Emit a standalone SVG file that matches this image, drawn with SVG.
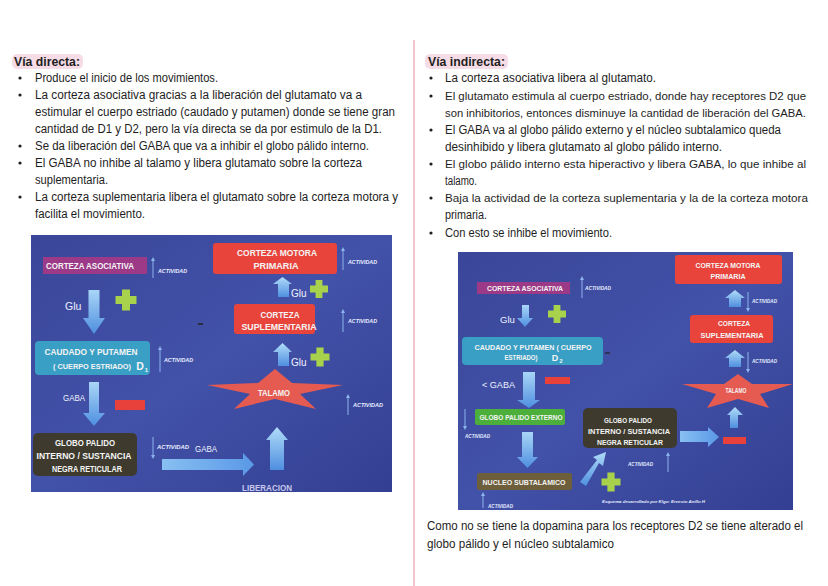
<svg xmlns="http://www.w3.org/2000/svg" width="828" height="586" viewBox="0 0 828 586">
<defs>
<style>
.t{font-family:"Liberation Sans",Arial,sans-serif;font-size:12.3px;fill:#1e1e1e}
.hd{font-weight:bold;font-size:12.5px}
.w{font-family:"Liberation Sans",Arial,sans-serif;font-weight:bold;fill:#f4f4f4;text-anchor:middle}
.lbl{font-family:"Liberation Sans",Arial,sans-serif;fill:#eef2ff}
.act{font-family:"Liberation Sans",Arial,sans-serif;font-style:italic;font-weight:bold;fill:#e6ecff}
.thin{stroke:#8cb4ee;stroke-width:1;fill:none}
.plus{fill:#a8d24c}
.minus{fill:#e8403a}
.red{fill:#e8443c}
.star{fill:#e55b52}
</style>
<linearGradient id="bg" x1="0" y1="0" x2="1" y2="1">
<stop offset="0" stop-color="#3a4699"/>
<stop offset="0.5" stop-color="#4252a8"/>
<stop offset="1" stop-color="#333f92"/>
</linearGradient>
<linearGradient id="adown" x1="0" y1="0" x2="0" y2="1">
<stop offset="0" stop-color="#a9d6f7"/>
<stop offset="1" stop-color="#4f8fe0"/>
</linearGradient>
<linearGradient id="aup" x1="0" y1="1" x2="0" y2="0">
<stop offset="0" stop-color="#4f8fe0"/>
<stop offset="1" stop-color="#b0dcf8"/>
</linearGradient>
<linearGradient id="aright" x1="0" y1="0" x2="1" y2="0">
<stop offset="0" stop-color="#88c0f2"/>
<stop offset="1" stop-color="#5a98e6"/>
</linearGradient>
<marker id="ah" viewBox="0 0 6 6" refX="3" refY="3" markerWidth="4" markerHeight="4" orient="auto-start-reverse">
<path d="M0,0 L6,3 L0,6 Z" fill="#8cb4ee"/>
</marker>
<path id="plusShape" d="M-3.8,-10 H3.8 V-3.8 H10 V3.8 H3.8 V10 H-3.8 V3.8 H-10 V-3.8 H-3.8 Z"/>
</defs>
<rect width="828" height="586" fill="#ffffff"/>
<line x1="414" y1="40" x2="414" y2="586" stroke="#f2c4cf" stroke-width="2"/>

<!-- Left text column -->
<g id="left-text">
<rect x="12" y="54" width="71" height="15" rx="5" fill="#f6dce6"/>
<text class="t hd" x="14" y="66" textLength="66" lengthAdjust="spacingAndGlyphs">Vía directa:</text>
<g fill="#1e1e1e">
<circle cx="20" cy="78" r="1.6"/><circle cx="20" cy="95" r="1.6"/><circle cx="20" cy="146" r="1.6"/><circle cx="20" cy="163" r="1.6"/><circle cx="20" cy="197" r="1.6"/>
</g>
<text class="t" x="35" y="82" textLength="183" lengthAdjust="spacingAndGlyphs">Produce el inicio de los movimientos.</text>
<text class="t" x="35" y="99" textLength="327" lengthAdjust="spacingAndGlyphs">La corteza asociativa gracias a la liberación del glutamato va a</text>
<text class="t" x="35" y="116" textLength="360" lengthAdjust="spacingAndGlyphs">estimular el cuerpo estriado (caudado y putamen) donde se tiene gran</text>
<text class="t" x="35" y="133" textLength="347" lengthAdjust="spacingAndGlyphs">cantidad de D1 y D2, pero la vía directa se da por estimulo de la D1.</text>
<text class="t" x="35" y="150" textLength="334" lengthAdjust="spacingAndGlyphs">Se da liberación del GABA que va a inhibir el globo pálido interno.</text>
<text class="t" x="35" y="167" textLength="327" lengthAdjust="spacingAndGlyphs">El GABA no inhibe al talamo y libera glutamato sobre la corteza</text>
<text class="t" x="35" y="184" textLength="73" lengthAdjust="spacingAndGlyphs">suplementaria.</text>
<text class="t" x="35" y="201" textLength="363" lengthAdjust="spacingAndGlyphs">La corteza suplementaria libera el glutamato sobre la corteza motora y</text>
<text class="t" x="35" y="218" textLength="110" lengthAdjust="spacingAndGlyphs">facilita el movimiento.</text>
</g>

<!-- Right text column -->
<g id="right-text">
<rect x="425" y="54" width="83" height="15" rx="5" fill="#f6dce6"/>
<text class="t hd" x="428" y="66" textLength="77" lengthAdjust="spacingAndGlyphs">Vía indirecta:</text>
<g fill="#1e1e1e">
<circle cx="431" cy="78" r="1.6"/><circle cx="431" cy="96" r="1.6"/><circle cx="431" cy="130" r="1.6"/><circle cx="431" cy="164" r="1.6"/><circle cx="431" cy="198" r="1.6"/><circle cx="431" cy="233" r="1.6"/>
</g>
<text class="t" x="445" y="82" textLength="211" lengthAdjust="spacingAndGlyphs">La corteza asociativa libera al glutamato.</text>
<text class="t" x="445" y="100" style="font-size:11.3px" textLength="361" lengthAdjust="spacingAndGlyphs">El glutamato estimula al cuerpo estriado, donde hay receptores D2 que</text>
<text class="t" x="445" y="117" style="font-size:11.3px" textLength="361" lengthAdjust="spacingAndGlyphs">son inhibitorios, entonces disminuye la cantidad de liberación del GABA.</text>
<text class="t" x="445" y="134" textLength="336" lengthAdjust="spacingAndGlyphs">El GABA va al globo pálido externo y el núcleo subtalamico queda</text>
<text class="t" x="445" y="151" textLength="277" lengthAdjust="spacingAndGlyphs">desinhibido y libera glutamato al globo pálido interno.</text>
<text class="t" x="445" y="168" style="font-size:11.8px" textLength="361" lengthAdjust="spacingAndGlyphs">El globo pálido interno esta hiperactivo y libera GABA, lo que inhibe al</text>
<text class="t" x="445" y="185" textLength="32" lengthAdjust="spacingAndGlyphs">talamo.</text>
<text class="t" x="445" y="202" style="font-size:11.8px" textLength="363" lengthAdjust="spacingAndGlyphs">Baja la actividad de la corteza suplementaria y la de la corteza motora</text>
<text class="t" x="445" y="219" textLength="42" lengthAdjust="spacingAndGlyphs">primaria.</text>
<text class="t" x="445" y="237" textLength="167" lengthAdjust="spacingAndGlyphs">Con esto se inhibe el movimiento.</text>
<text class="t" x="427" y="530" textLength="376" lengthAdjust="spacingAndGlyphs">Como no se tiene la dopamina para los receptores D2 se tiene alterado el</text>
<text class="t" x="427" y="548" textLength="187" lengthAdjust="spacingAndGlyphs">globo pálido y el núcleo subtalamico</text>
</g>

<!-- ================= LEFT DIAGRAM (vía directa) ================= -->
<rect x="31" y="235" width="361" height="257" fill="url(#bg)"/>
<g id="l-connectors">
<path d="M88.5,290 H99.5 V318 H105 L94,334 L83,318 H88.5 Z" fill="url(#adown)"/>
<path d="M89,382 H99 V413 H105 L94,426 L83,413 H89 Z" fill="url(#adown)"/>
<path d="M162,459 H243 V453 L254,464.5 L243,476 V470 H162 Z" fill="url(#aright)"/>
<path d="M270,470 V440 H266 L277,427 L288,440 H284 V470 Z" fill="url(#aup)"/>
<path d="M278,297 V284 H273 L282.5,277 L292,284 H289 V297 Z" fill="url(#aup)"/>
<path d="M278,366 V352 H273 L282.5,343 L292,352 H289 V366 Z" fill="url(#aup)"/>
<text class="lbl" x="65" y="310" font-size="10.5">Glu</text>
<text class="lbl" x="291" y="297" font-size="10">Glu</text>
<text class="lbl" x="291" y="366" font-size="10">Glu</text>
<text class="lbl" x="63" y="401" font-size="8.5" textLength="22" lengthAdjust="spacingAndGlyphs">GABA</text>
<text class="lbl" x="195" y="452" font-size="8.5" textLength="22" lengthAdjust="spacingAndGlyphs">GABA</text>
<text x="242" y="491" font-family="Liberation Sans, Arial, sans-serif" font-weight="bold" font-size="8.5" fill="#c9c6ec" textLength="50" lengthAdjust="spacingAndGlyphs">LIBERACION</text>
<use href="#plusShape" class="plus" transform="translate(126,300) scale(1.05)"/>
<use href="#plusShape" class="plus" transform="translate(319,289) scale(0.9)"/>
<use href="#plusShape" class="plus" transform="translate(320,357) scale(0.95)"/>
<rect x="115" y="400" width="30" height="10" class="minus"/>
<line x1="198" y1="324" x2="203" y2="324" stroke="#222" stroke-width="1.5"/>
<line class="thin" x1="153" y1="278" x2="153" y2="259" marker-end="url(#ah)"/>
<text class="act" x="158" y="273" font-size="5.5" textLength="29" lengthAdjust="spacingAndGlyphs">ACTIVIDAD</text>
<line class="thin" x1="160" y1="372" x2="160" y2="348" marker-end="url(#ah)"/>
<text class="act" x="164" y="362" font-size="5.5" textLength="29" lengthAdjust="spacingAndGlyphs">ACTIVIDAD</text>
<line class="thin" x1="153" y1="437" x2="153" y2="457" marker-end="url(#ah)"/>
<text class="act" x="157" y="449" font-size="5.5" textLength="32" lengthAdjust="spacingAndGlyphs">ACTIVIDAD</text>
<line class="thin" x1="343" y1="270" x2="343" y2="249" marker-end="url(#ah)"/>
<text class="act" x="348" y="264" font-size="5.5" textLength="29" lengthAdjust="spacingAndGlyphs">ACTIVIDAD</text>
<line class="thin" x1="343" y1="332" x2="343" y2="311" marker-end="url(#ah)"/>
<text class="act" x="348" y="323" font-size="5.5" textLength="29" lengthAdjust="spacingAndGlyphs">ACTIVIDAD</text>
<line class="thin" x1="348" y1="415" x2="348" y2="396" marker-end="url(#ah)"/>
<text class="act" x="353" y="407" font-size="5.5" textLength="30" lengthAdjust="spacingAndGlyphs">ACTIVIDAD</text>
</g>
<g id="l-corteza-asociativa">
<rect x="43" y="257" width="104" height="17" fill="#9c3a88"/>
<text class="w" x="90" y="269" font-size="8.5" textLength="88" lengthAdjust="spacingAndGlyphs">CORTEZA ASOCIATIVA</text>
</g>
<g id="l-caudado">
<rect x="35" y="341" width="115" height="34" rx="4" fill="#3a9fc4"/>
<text class="w" x="91" y="355" font-size="8.5" textLength="93" lengthAdjust="spacingAndGlyphs">CAUDADO Y PUTAMEN</text>
<text class="w" x="92" y="369" font-size="7.6" textLength="78" lengthAdjust="spacingAndGlyphs">( CUERPO ESTRIADO)</text>
<text class="w" x="140" y="370" font-size="10.5">D</text>
<text class="w" x="146.5" y="372" font-size="6">1</text>
</g>
<g id="l-globo-palido">
<rect x="33" y="433" width="104" height="43" rx="5" fill="#3e3b2e"/>
<text class="w" x="85" y="446" font-size="8.5" textLength="60" lengthAdjust="spacingAndGlyphs">GLOBO PALIDO</text>
<text class="w" x="84" y="459" font-size="8.5" textLength="95" lengthAdjust="spacingAndGlyphs">INTERNO / SUSTANCIA</text>
<text class="w" x="87" y="472" font-size="8.5" textLength="70" lengthAdjust="spacingAndGlyphs">NEGRA RETICULAR</text>
</g>
<g id="l-talamo">
<path class="star" d="M275,369 L292,383 L343,385 L300,394 L316,409 L275,399 L234,409 L250,394 L207,385 L258,383 Z"/>
<text class="w" x="274" y="396" font-size="8.5" textLength="32" lengthAdjust="spacingAndGlyphs">TALAMO</text>
</g>
<g id="l-corteza-motora">
<rect x="213" y="243" width="124" height="31" rx="3" class="red"/>
<text class="w" x="277" y="256" font-size="8.5" textLength="80" lengthAdjust="spacingAndGlyphs">CORTEZA MOTORA</text>
<text class="w" x="276" y="269" font-size="8.5" textLength="45" lengthAdjust="spacingAndGlyphs">PRIMARIA</text>
</g>
<g id="l-corteza-suplementaria">
<rect x="234" y="304" width="81" height="30" rx="3" class="red"/>
<text class="w" x="280" y="318" font-size="8.5" textLength="39" lengthAdjust="spacingAndGlyphs">CORTEZA</text>
<text class="w" x="279" y="330" font-size="8.5" textLength="75" lengthAdjust="spacingAndGlyphs">SUPLEMENTARIA</text>
</g>

<!-- ================= RIGHT DIAGRAM (vía indirecta) ================= -->
<rect x="458" y="252" width="335" height="258" fill="url(#bg)"/>
<g id="r-connectors">
<path d="M522,305 H529 V318 H533 L525,327 L517,318 H522 Z" fill="url(#adown)"/>
<path d="M523,372 H535 V400 H540 L529,408 L517,400 H523 Z" fill="url(#adown)"/>
<path d="M522,432 H533 V457 H538 L527.5,468 L517,457 H522 Z" fill="url(#adown)"/>
<path d="M580,482 L597,460 L593,457 L606,452 L603,466 L599,463 L586,486 Z" fill="url(#aup)"/>
<path d="M680,431 H708 V427 L719,437 L708,447 V442 H680 Z" fill="url(#aright)"/>
<path d="M730,428 V415 H727 L735,407 L743,415 H738 V428 Z" fill="url(#aup)"/>
<path d="M729,307 V298 H725 L735,290 L745,298 H741 V307 Z" fill="url(#aup)"/>
<path d="M729,367 V358 H725 L735,350 L745,358 H741 V367 Z" fill="url(#aup)"/>
<text class="lbl" x="500" y="323" font-size="9.5">Glu</text>
<text class="lbl" x="482" y="388" font-size="8.5" textLength="33" lengthAdjust="spacingAndGlyphs">&lt; GABA</text>
<use href="#plusShape" class="plus" transform="translate(557,314) scale(0.9)"/>
<use href="#plusShape" class="plus" transform="translate(611,482) scale(0.95)"/>
<rect x="545" y="377" width="25" height="7" class="minus"/>
<rect x="723" y="437" width="23" height="7" class="minus"/>
<line x1="605" y1="353" x2="610" y2="353" stroke="#222" stroke-width="1.2"/>
<line class="thin" x1="582" y1="298" x2="582" y2="278" marker-end="url(#ah)"/>
<text class="act" x="585" y="290" font-size="4.5" textLength="26" lengthAdjust="spacingAndGlyphs">ACTIVIDAD</text>
<line class="thin" x1="465" y1="409" x2="465" y2="428" marker-end="url(#ah)"/>
<text class="act" x="465" y="438" font-size="4.5" textLength="25" lengthAdjust="spacingAndGlyphs">ACTIVIDAD</text>
<line class="thin" x1="483" y1="508" x2="483" y2="494" marker-end="url(#ah)"/>
<text class="act" x="488" y="508" font-size="4.5" textLength="25" lengthAdjust="spacingAndGlyphs">ACTIVIDAD</text>
<line class="thin" x1="668" y1="472" x2="668" y2="454" marker-end="url(#ah)"/>
<text class="act" x="628" y="466" font-size="4.5" textLength="25" lengthAdjust="spacingAndGlyphs">ACTIVIDAD</text>
<line class="thin" x1="748" y1="292" x2="748" y2="310" marker-end="url(#ah)"/>
<text class="act" x="752" y="303" font-size="4.5" textLength="25" lengthAdjust="spacingAndGlyphs">ACTIVIDAD</text>
<line class="thin" x1="748" y1="352" x2="748" y2="371" marker-end="url(#ah)"/>
<text class="act" x="752" y="363" font-size="4.5" textLength="25" lengthAdjust="spacingAndGlyphs">ACTIVIDAD</text>
<text class="act" x="602" y="503" font-size="3.5" textLength="103" lengthAdjust="spacingAndGlyphs">Esquema desarrollado por Klgo: Ernesto Anillo H</text>
</g>
<g id="r-corteza-asociativa">
<rect x="477" y="282" width="93" height="12" fill="#9c3a88"/>
<text class="w" x="525" y="291" font-size="7" textLength="76" lengthAdjust="spacingAndGlyphs">CORTEZA ASOCIATIVA</text>
</g>
<g id="r-caudado">
<rect x="462" y="337" width="141" height="28" rx="4" fill="#3a9fc4"/>
<text class="w" x="533" y="350" font-size="7" textLength="117" lengthAdjust="spacingAndGlyphs">CAUDADO Y PUTAMEN ( CUERPO</text>
<text class="w" x="521" y="360" font-size="7" textLength="33" lengthAdjust="spacingAndGlyphs">ESTRIADO)</text>
<text class="w" x="555" y="361" font-size="9">D</text>
<text class="w" x="561" y="363" font-size="5.5">2</text>
</g>
<g id="r-globo-externo">
<rect x="475" y="409" width="90" height="16" rx="2" fill="#4caf3c"/>
<text class="w" x="521" y="420" font-size="7" textLength="83" lengthAdjust="spacingAndGlyphs">GLOBO PALIDO EXTERNO</text>
</g>
<g id="r-nucleo">
<rect x="477" y="473" width="95" height="17" rx="2" fill="#6d5e3c"/>
<text class="w" x="524" y="485" font-size="7" textLength="83" lengthAdjust="spacingAndGlyphs">NUCLEO SUBTALAMICO</text>
</g>
<g id="r-globo-interno">
<rect x="583" y="408" width="94" height="40" rx="5" fill="#3e3b2e"/>
<text class="w" x="628" y="423" font-size="7" textLength="48" lengthAdjust="spacingAndGlyphs">GLOBO PALIDO</text>
<text class="w" x="629" y="434" font-size="7" textLength="82" lengthAdjust="spacingAndGlyphs">INTERNO / SUSTANCIA</text>
<text class="w" x="630" y="445" font-size="7" textLength="66" lengthAdjust="spacingAndGlyphs">NEGRA RETICULAR</text>
</g>
<g id="r-talamo">
<path class="star" d="M738,374 L752,384 L793,384 L760,394 L769,408 L738,399 L707,408 L716,394 L682,384 L724,384 Z"/>
<text class="w" x="736" y="393" font-size="6.5" textLength="21" lengthAdjust="spacingAndGlyphs">TALAMO</text>
</g>
<g id="r-corteza-motora">
<rect x="675" y="255" width="107" height="29" rx="3" class="red"/>
<text class="w" x="728" y="268" font-size="7" textLength="65" lengthAdjust="spacingAndGlyphs">CORTEZA MOTORA</text>
<text class="w" x="728" y="279" font-size="7" textLength="35" lengthAdjust="spacingAndGlyphs">PRIMARIA</text>
</g>
<g id="r-corteza-suplementaria">
<rect x="690" y="315" width="83" height="28" rx="3" class="red"/>
<text class="w" x="734" y="326" font-size="7" textLength="32" lengthAdjust="spacingAndGlyphs">CORTEZA</text>
<text class="w" x="732" y="338" font-size="7" textLength="63" lengthAdjust="spacingAndGlyphs">SUPLEMENTARIA</text>
</g>
</svg>
